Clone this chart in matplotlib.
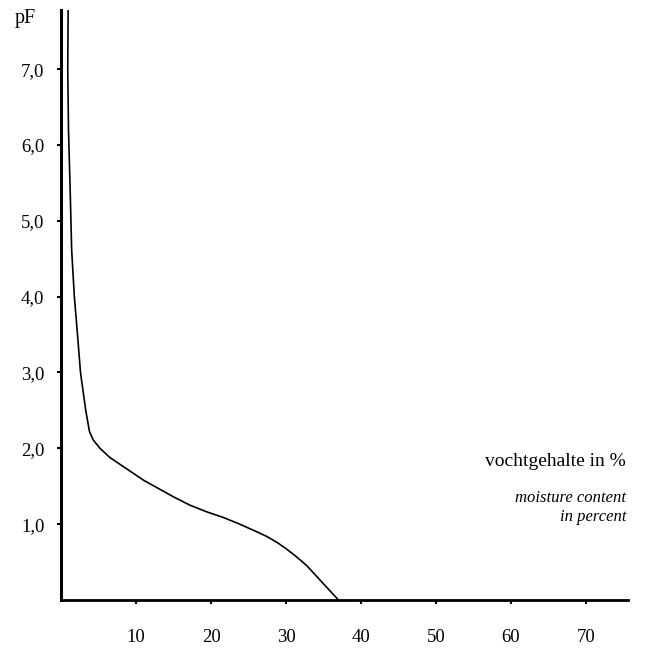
import matplotlib.pyplot as plt

# pF curve (moisture % vs pF)
moisture = [0.95, 0.9, 1.0, 1.25, 1.42, 1.78, 2.2, 2.6, 3.3, 3.8, 4.3, 5.2, 6.5, 8.3, 11.0, 15.0, 17.2, 19.5, 21.6, 23.6, 26.1, 27.4, 28.8, 30.1, 31.4, 32.8, 34.1, 35.4, 37.0]
pf = [7.78, 7.0, 6.2, 5.3, 4.62, 4.0, 3.5, 3.0, 2.5, 2.22, 2.11, 2.0, 1.88, 1.76, 1.58, 1.36, 1.25, 1.16, 1.09, 1.01, 0.90, 0.84, 0.76, 0.67, 0.57, 0.45, 0.31, 0.17, 0.0]

xticks = [10, 20, 30, 40, 50, 60, 70]
yticks = [1, 2, 3, 4, 5, 6, 7]
ylabels = ['1,0', '2,0', '3,0', '4,0', '5,0', '6,0', '7,0']

plt.rcParams['font.family'] = ['Liberation Serif', 'DejaVu Serif']

fig = plt.figure(figsize=(6.52, 6.49), dpi=100)
ax = fig.add_axes([61 / 652, 49 / 649, 567 / 652, 590 / 649])

ax.plot(moisture, pf, color='black', lw=1.2)

ax.set_xlim(0, 75.6)
ax.set_ylim(0, 7.78)
for side in ['top', 'right']:
    ax.spines[side].set_visible(False)
ax.spines['left'].set_linewidth(2.2)
ax.spines['bottom'].set_linewidth(2.0)

ax.set_xticks(xticks)
ax.set_xticklabels([str(t) for t in xticks], fontsize=13.5)
ax.set_yticks(yticks)
ax.set_yticklabels(ylabels, fontsize=13.5)
ax.tick_params(axis='x', direction='out', length=3, width=1.5, pad=18)
ax.tick_params(axis='y', direction='out', length=3, width=1.5, pad=9)

fig.text(15 / 652, 1 - 18 / 649, 'pF', fontsize=14.5, va='center', ha='left')
fig.text(626 / 652, 1 - 461 / 649, 'vochtgehalte in %', fontsize=14, ha='right', va='center')
fig.text(626 / 652, 1 - 498 / 649, 'moisture content', fontsize=12, style='italic', ha='right', va='center')
fig.text(626 / 652, 1 - 517 / 649, 'in percent', fontsize=12, style='italic', ha='right', va='center')

plt.savefig('out.png', dpi=100)
